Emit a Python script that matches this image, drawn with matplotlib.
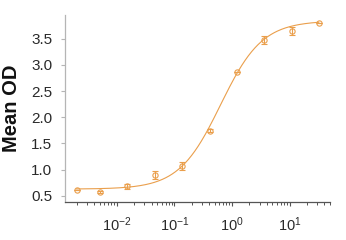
import numpy as np
import matplotlib
matplotlib.use("Agg")
import matplotlib.pyplot as plt
from matplotlib.ticker import LogLocator, NullFormatter, FixedLocator

plt.rcParams['font.family'] = ['Liberation Sans', 'DejaVu Sans']
plt.rcParams['mathtext.fontset'] = 'custom'
plt.rcParams['mathtext.rm'] = 'Liberation Sans'
plt.rcParams['mathtext.it'] = 'Liberation Sans:italic'
plt.rcParams['mathtext.bf'] = 'Liberation Sans:bold'

# data
conc = [0.002, 0.005, 0.015, 0.046, 0.137, 0.41, 1.2, 3.6, 11.0, 32.0]
mean_od = [0.61, 0.57, 0.68, 0.90, 1.07, 1.74, 2.86, 3.47, 3.65, 3.79]
err_od = [0.0, 0.02, 0.04, 0.07, 0.07, 0.03, 0.0, 0.08, 0.08, 0.0]
# 4PL fit parameters
fit_bottom = 0.63
fit_top = 3.84
fit_ec50 = 0.63
fit_hill = 1.2

yticks = [0.5, 1.0, 1.5, 2.0, 2.5, 3.0, 3.5]
xticks = [1e-2, 1e-1, 1e0, 1e1]
xticklabels = [r'$10^{-2}$', r'$10^{-1}$', r'$10^{0}$', r'$10^{1}$']

color = '#EA9F4C'

fig = plt.figure(figsize=(3.46, 2.40), dpi=100)
ax = fig.add_axes([65/346, 1 - 201.7/240, (330-65)/346, (201.7-15)/240])

xc = np.logspace(np.log10(conc[0]), np.log10(conc[-1]), 300)
yc = fit_bottom + (fit_top - fit_bottom) / (1 + (fit_ec50 / xc) ** fit_hill)
ax.plot(xc, yc, color=color, lw=0.8, zorder=2)

ax.errorbar(conc, mean_od, yerr=err_od, fmt='o', ms=3.8, mfc='none', mec=color,
            mew=0.8, ecolor=color, elinewidth=0.8, capsize=2.5, capthick=0.8, zorder=3)

ax.set_xscale('log')
ax.set_xlim(10**-2.90, 10**1.70)
ax.set_ylim(0.39, 3.95)
ax.xaxis.set_major_locator(FixedLocator(xticks))
ax.set_xticklabels(xticklabels)
ax.xaxis.set_minor_locator(LogLocator(base=10, subs=np.arange(2, 10) * 1.0, numticks=20))
ax.xaxis.set_minor_formatter(NullFormatter())
ax.set_yticks(yticks)
ax.set_yticklabels([f'{v:.1f}' for v in yticks])

for s in ['top', 'right']:
    ax.spines[s].set_visible(False)
ax.spines['left'].set_color('#b5b5b5')
ax.spines['bottom'].set_color('#555555')
ax.spines['left'].set_linewidth(0.9)
ax.spines['bottom'].set_linewidth(0.9)

ax.tick_params(axis='y', length=3, width=0.8, color='#b5b5b5', labelsize=11,
               labelcolor='#2a2a2a', pad=6)
ax.tick_params(axis='x', which='major', length=3, width=0.8, color='#555555',
               labelsize=10.5, labelcolor='#2a2a2a', pad=7)
ax.tick_params(axis='x', which='minor', length=2.5, width=0.7, color='#555555')

fig.text(12/346, 1 - 108/240, 'Mean OD', rotation=90, fontsize=14.5,
         fontweight='bold', ha='center', va='center', color='#111111')

fig.savefig('out.png', dpi=100)
